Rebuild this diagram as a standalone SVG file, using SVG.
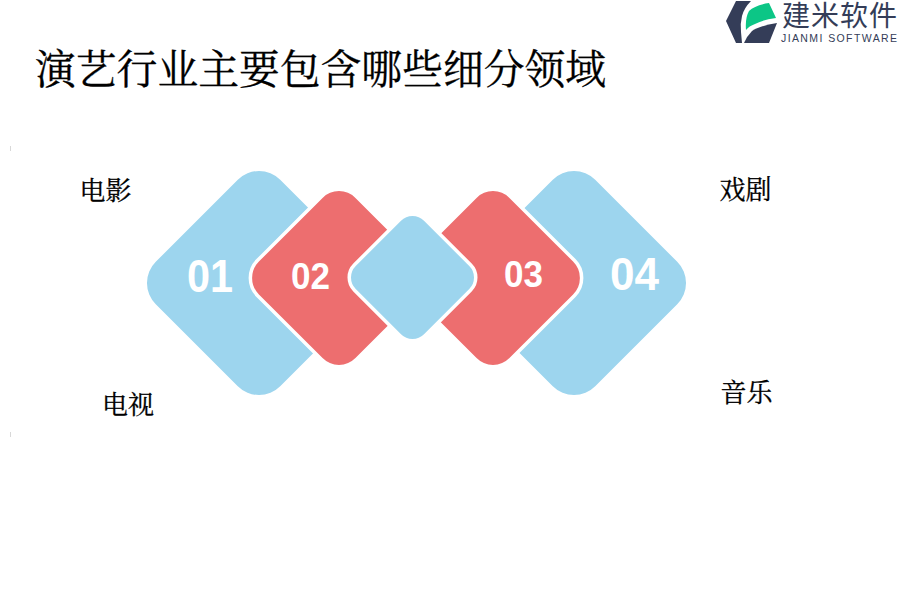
<svg xmlns="http://www.w3.org/2000/svg" width="900" height="600" viewBox="0 0 900 600">
<style>
.blue{fill:#9dd5ee}
.red{fill:#ed6e6f}
.sep{stroke:#fff;stroke-width:3.5}
.num{font-family:"Liberation Sans",Arial,sans-serif;font-weight:700;fill:#fff}
.lab{font-family:"Noto Serif CJK SC","Noto Sans CJK SC",serif;font-size:26px;fill:#000;stroke:#000;stroke-width:.3}
.tick{fill:#d8d8d8}
</style>
<rect width="900" height="600" fill="#fff"/>
<rect class="tick" x="10" y="146" width="1" height="5"/>
<rect class="tick" x="10" y="432" width="1" height="5"/>
<g id="logo">
<path d="M726 21L736 1H751Q744 8 742 16Q740 24 741 32L742 43H736Z" fill="#343d58"/>
<path d="M744 43Q747 36 752 31Q759 26 777 23L769 43Z" fill="#343d58"/>
<path d="M746 30Q745 18 749 11Q755 5 769 3L776 18Q762 20 755 24Q749 26 746 30Z" fill="#0cc686"/>
<text x="782" y="26" font-family="'Noto Sans CJK SC',sans-serif" font-size="28" letter-spacing="1" fill="#343d58">建米软件</text>
<text x="781" y="42" font-family="'Liberation Sans',sans-serif" font-size="10.5" letter-spacing="1.4" fill="#343d58">JIANMI SOFTWARE</text>
</g>
<text id="title" x="35" y="84" font-family="'Noto Serif CJK SC','Noto Sans CJK SC',serif" font-size="40.8" fill="#000" stroke="#000" stroke-width=".3">演艺行业主要包含哪些细分领域</text>
<g id="node-01"><rect class="blue" x="-88" y="-88" width="176" height="176" rx="30" transform="translate(259 283) rotate(45)"/><text class="num" x="187" y="292" font-size="46" textLength="46" lengthAdjust="spacingAndGlyphs">01</text></g>
<g id="node-04"><rect class="blue" x="-88" y="-88" width="176" height="176" rx="30" transform="translate(574 283) rotate(45)"/><text class="num" x="610" y="290" font-size="46" textLength="49" lengthAdjust="spacingAndGlyphs">04</text></g>
<g id="node-02"><rect class="red sep" x="-70" y="-70" width="140" height="140" rx="25" transform="translate(339 278) rotate(45)"/><text class="num" x="291" y="289" font-size="37" textLength="39" lengthAdjust="spacingAndGlyphs">02</text></g>
<g id="node-03"><rect class="red sep" x="-70" y="-70" width="140" height="140" rx="25" transform="translate(493 278) rotate(45)"/><text class="num" x="504" y="287" font-size="37" textLength="39" lengthAdjust="spacingAndGlyphs">03</text></g>
<g id="node-center"><rect class="blue sep" x="-50" y="-50" width="100" height="100" rx="18" transform="translate(412.5 277.5) rotate(45)"/></g>
<text id="label-1" class="lab" x="79.500" y="200">电影</text>
<text id="label-2" class="lab" x="102" y="414">电视</text>
<text id="label-3" class="lab" x="719.500" y="198.500">戏剧</text>
<text id="label-4" class="lab" x="720.500" y="402">音乐</text>
<g id="connectors"/>
</svg>
